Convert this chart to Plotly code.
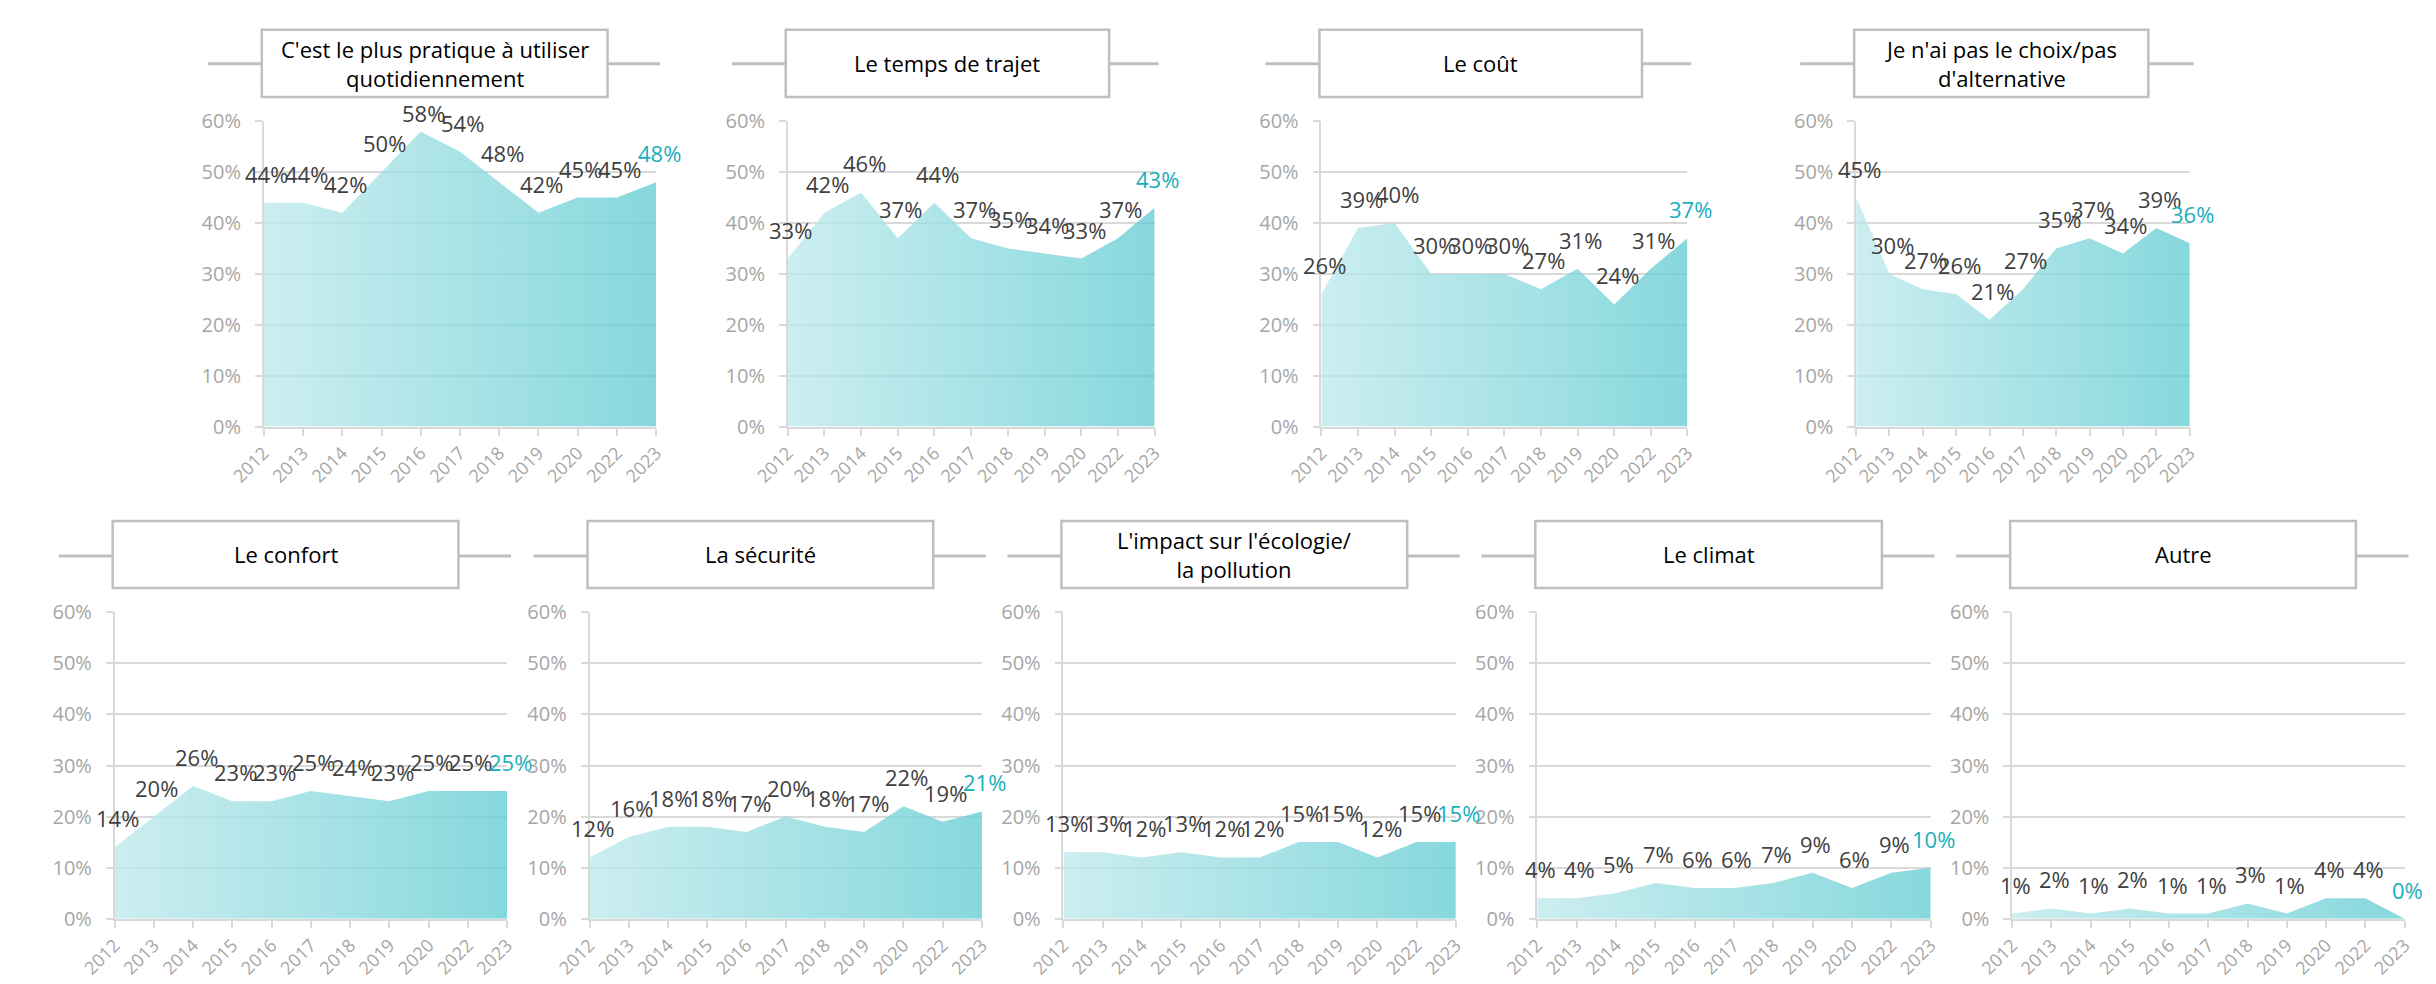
import plotly.graph_objects as go

# ---------------- data ----------------
years = ["2012", "2013", "2014", "2015", "2016", "2017", "2018", "2019", "2020", "2022", "2023"]

titles = [
    "C'est le plus pratique à utiliser<br>quotidiennement",
    "Le temps de trajet",
    "Le coût",
    "Je n'ai pas le choix/pas<br>d'alternative",
    "Le confort",
    "La sécurité",
    "L'impact sur l'écologie/<br>la pollution",
    "Le climat",
    "Autre",
]

pratique = [44, 44, 42, 50, 58, 54, 48, 42, 45, 45, 48]
temps_trajet = [33, 42, 46, 37, 44, 37, 35, 34, 33, 37, 43]
cout = [26, 39, 40, 30, 30, 30, 27, 31, 24, 31, 37]
pas_le_choix = [45, 30, 27, 26, 21, 27, 35, 37, 34, 39, 36]
confort = [14, 20, 26, 23, 23, 25, 24, 23, 25, 25, 25]
securite = [12, 16, 18, 18, 17, 20, 18, 17, 22, 19, 21]
ecologie = [13, 13, 12, 13, 12, 12, 15, 15, 12, 15, 15]
climat = [4, 4, 5, 7, 6, 6, 7, 9, 6, 9, 10]
autre = [1, 2, 1, 2, 1, 1, 3, 1, 4, 4, 0]

y_ticks = [0, 10, 20, 30, 40, 50, 60]

series = [pratique, temps_trajet, cout, pas_le_choix, confort, securite, ecologie, climat, autre]

# ---------------- layout geometry (pixels) ----------------
W, H = 2436, 984
Y_MAX = 60
# (left, right, top, bottom) of each plot area
boxes = [
    (224, 624, 102, 416),
    (758, 1132, 102, 416),
    (1302, 1675, 102, 416),
    (1847, 2187, 102, 416),
    (72, 472, 607, 922),
    (556, 956, 607, 922),
    (1039, 1439, 607, 922),
    (1522, 1923, 607, 922),
    (2006, 2406, 607, 922),
]
# title box vertical extents per row: (top, bottom, line_y)
title_rows = {102: (8, 77, 43), 607: (513, 582, 549)}

GRID = "#d9d9d9"
TICK_GRAY = "#a6a6a6"
LABEL_DARK = "#404040"
TEAL = "#1aaebb"
BORDER = "#bfbfbf"
FONT = "Open Sans"
LABEL_H = 30      # approx. rendered height of a data label
LABEL_GAP = 12    # default gap between point and label

fig = go.Figure()
shapes = []
annotations = []

def px_x(v):
    return v / W

def px_y(v):
    return 1 - v / H

for i, (vals, title, (l, r, t, b)) in enumerate(zip(series, titles, boxes)):
    idx = "" if i == 0 else str(i + 1)
    xa, ya = "x" + idx, "y" + idx
    fig.add_trace(go.Scatter(
        x=years,
        y=[v / 100 for v in vals],
        xaxis=xa, yaxis=ya,
        mode="lines",
        line=dict(width=0, color="rgba(0,0,0,0)"),
        fill="tozeroy",
        fillgradient=dict(
            type="horizontal",
            colorscale=[[0, "rgba(190,233,236,0.78)"], [1, "rgba(100,205,211,0.78)"]],
        ),
        hoverinfo="skip",
        showlegend=False,
    ))
    bt, bb, ly = title_rows[t]
    # data labels, anchored on the data points through the axes
    # (category axes take the category's serial number for annotations)
    for j, v in enumerate(vals):
        last = j == len(vals) - 1
        point_px = t + (Y_MAX - v) / Y_MAX * (b - t)
        # keep the label below the title box
        shift = min(LABEL_GAP, point_px - LABEL_H - (bb + 4))
        annotations.append(dict(
            xref=xa, yref=ya, x=j, y=v / 100,
            text=f"{v}%", showarrow=False,
            xanchor="center", yanchor="bottom", yshift=shift, xshift=3,
            font=dict(family=FONT, size=22, color=TEAL if last else LABEL_DARK),
        ))
    fig.layout["xaxis" + idx] = dict(
        domain=[px_x(l), px_x(r)],
        anchor=ya,
        type="category",
        range=[0, len(years) - 1],
        showgrid=False,
        showline=True, linecolor=GRID, linewidth=2,
        ticks="outside", ticklen=7, tickcolor=GRID, tickwidth=1.5,
        tickangle=-45,
        tickfont=dict(family=FONT, size=18, color=TICK_GRAY),
        fixedrange=True,
    )
    fig.layout["yaxis" + idx] = dict(
        domain=[px_y(b), px_y(t)],
        anchor=xa,
        range=[0, Y_MAX / 100],
        tickvals=[v / 100 for v in y_ticks],
        ticktext=[f"{v}%" for v in y_ticks],
        showgrid=True, gridcolor=GRID, gridwidth=1.5,
        zeroline=False,
        showline=True, linecolor=GRID, linewidth=1.5,
        ticks="outside", ticklen=7, tickcolor=GRID, tickwidth=1.5,
        ticklabelstandoff=10,
        tickfont=dict(family=FONT, size=20, color=TICK_GRAY),
        fixedrange=True,
    )

    # title decoration: horizontal line + white framed box
    box_l = l - 2
    box_r = l + 0.876 * (r - l)
    shapes.append(dict(type="line", xref="paper", yref="paper",
                       x0=px_x(l - 57), x1=px_x(r + 4), y0=px_y(ly), y1=px_y(ly),
                       line=dict(color=BORDER, width=3), layer="above"))
    shapes.append(dict(type="rect", xref="paper", yref="paper",
                       x0=px_x(box_l), x1=px_x(box_r), y0=px_y(bb), y1=px_y(bt),
                       fillcolor="white", line=dict(color=BORDER, width=2.5), layer="above"))
    annotations.append(dict(xref="paper", yref="paper",
                            x=px_x((box_l + box_r) / 2), y=px_y((bt + bb) / 2),
                            text=title, showarrow=False,
                            xanchor="center", yanchor="middle",
                            font=dict(family=FONT, size=22, color="#000000")))

fig.update_layout(
    width=W, height=H,
    margin=dict(l=0, r=0, t=0, b=0),
    paper_bgcolor="white", plot_bgcolor="white",
    shapes=shapes, annotations=annotations,
    font=dict(family=FONT),
)

fig.write_html("out.html")
